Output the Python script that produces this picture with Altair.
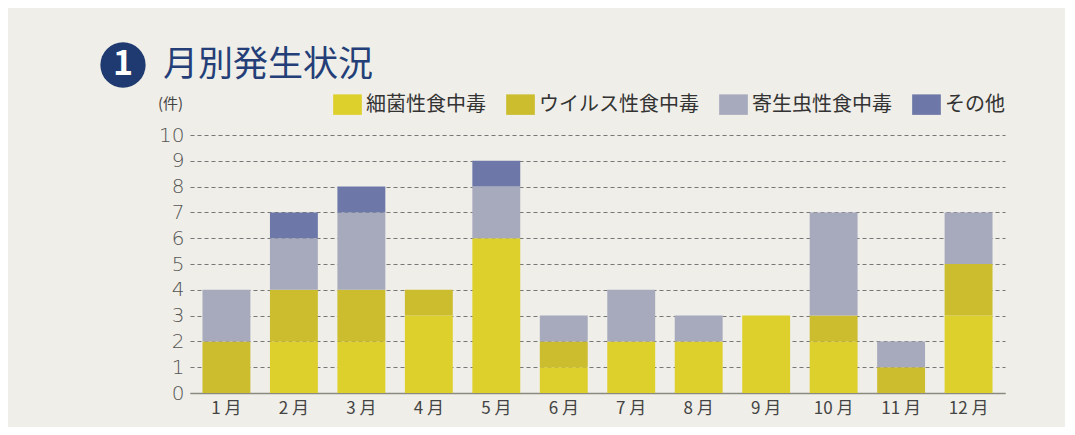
import altair as alt
import pandas as pd

months = ["1月", "2月", "3月", "4月", "5月", "6月", "7月", "8月", "9月", "10月", "11月", "12月"]
categories = ["細菌性食中毒", "ウイルス性食中毒", "寄生虫性食中毒", "その他"]
bacteria = [0, 2, 2, 3, 6, 1, 2, 2, 3, 2, 0, 3]
virus = [2, 2, 2, 1, 0, 1, 0, 0, 0, 1, 1, 2]
parasite = [2, 2, 3, 0, 2, 1, 2, 1, 0, 4, 1, 2]
other = [0, 1, 1, 0, 1, 0, 0, 0, 0, 0, 0, 0]
y_ticks = [0, 1, 2, 3, 4, 5, 6, 7, 8, 9, 10]
colors = ["#ddd02c", "#cbbd2e", "#a7aabd", "#6d78a8"]

series = [bacteria, virus, parasite, other]
rows = []
for ci, (cat, vals) in enumerate(zip(categories, series)):
    for m, v in zip(months, vals):
        rows.append({"月": m, "種類": cat, "件数": v, "idx": ci})
df = pd.DataFrame(rows)

FONT = "Noto Sans CJK JP"

bars = alt.Chart(df).mark_bar().encode(
    x=alt.X("月:N", sort=months, title=None,
            scale=alt.Scale(paddingInner=0.29, paddingOuter=0.185),
            axis=alt.Axis(labelAngle=0, labelFontSize=17, labelColor="#444444",
                          labelFont=FONT, ticks=False, labelPadding=7,
                          labelExpr="replace(datum.label, '月', ' 月')",
                          domainColor="#8a8a80", domainWidth=1.5, grid=False)),
    y=alt.Y("件数:Q", stack="zero", title="(件)",
            scale=alt.Scale(domain=[0, 10], nice=False),
            axis=alt.Axis(values=y_ticks, ticks=False, domain=False, labelOverlap=False,
                          labelFontSize=20, labelColor="#555555", labelFont="DejaVu Sans",
                          labelFontWeight="lighter", labelPadding=6,
                          grid=True, gridDash=[4, 3], gridColor="#777777", gridWidth=1,
                          titleAngle=0, titleX=-20, titleY=-24, titleFontSize=15,
                          titleFontWeight="normal", titleColor="#444444", titleFont=FONT,
                          titleAlign="center")),
    color=alt.Color("種類:N", sort=categories,
                    scale=alt.Scale(domain=categories, range=colors),
                    legend=alt.Legend(title=None, orient="none", direction="horizontal",
                                      legendX=147, legendY=-41,
                                      symbolType="M-1.4,-1H1.4V1H-1.4Z",
                                      symbolSize=420, symbolStrokeWidth=0,
                                      labelFontSize=20, labelFont=FONT, labelColor="#333333",
                                      labelOffset=8, columnPadding=20, symbolOpacity=1)),
    order=alt.Order("idx:Q", sort="ascending"),
)

one = pd.DataFrame({"t": ["1"]})
circle = alt.Chart(one).mark_circle(color="#1e3a70", opacity=1, size=2050).encode(
    x=alt.value(-67), y=alt.value(-70))
num = alt.Chart(one).mark_text(color="white", fontSize=34, fontWeight="bold", font=FONT,
                               align="center", baseline="middle").encode(
    x=alt.value(-67), y=alt.value(-70), text="t:N")
title = alt.Chart(pd.DataFrame({"t": ["月別発生状況"]})).mark_text(
    color="#243f78", fontSize=35, font=FONT, align="left", baseline="middle").encode(
    x=alt.value(-27), y=alt.value(-70), text="t:N")

chart = alt.layer(bars, circle, num, title).properties(
    width=815, height=258,
    autosize=alt.AutoSizeParams(type="none"),
    padding={"left": 182, "top": 127, "right": 60, "bottom": 34},
    background="#efeee8",
).configure_view(stroke=None)

chart.save("out.html", embed_options={"renderer": "svg", "actions": False})
